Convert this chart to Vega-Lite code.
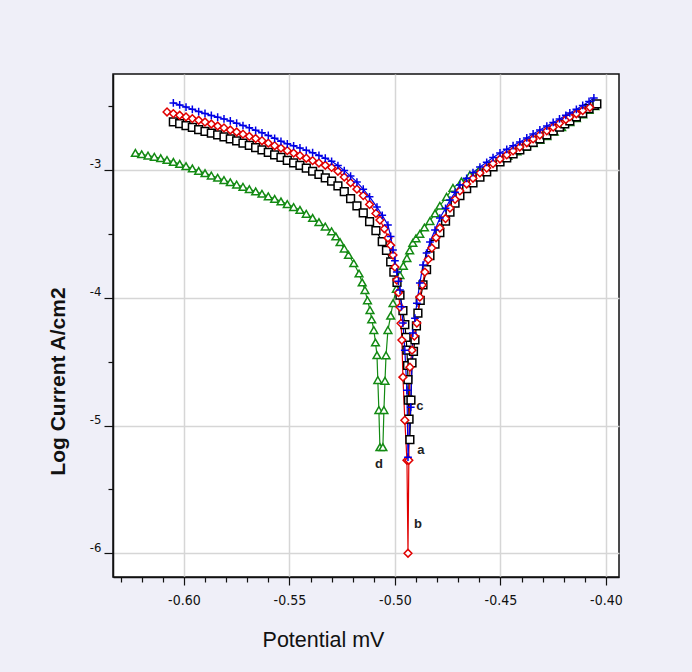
{
"$schema": "https://vega.github.io/schema/vega-lite/v6.json",
"width": 506, "height": 503,
"autosize": "none",
"padding": {"left": 113, "top": 74, "right": 73, "bottom": 95},
"background": "#EFEFF8",
"config": {"view": {"stroke": "#111111", "strokeWidth": 1.5, "fill": "white"}},
"datasets": {
"curves": [
{"s":"d","x":-0.623,"y":-2.867},{"s":"d","x":-0.620,"y":-2.877},{"s":"d","x":-0.617,"y":-2.887},{"s":"d","x":-0.614,"y":-2.897},{"s":"d","x":-0.611,"y":-2.908},{"s":"d","x":-0.608,"y":-2.922},{"s":"d","x":-0.605,"y":-2.937},{"s":"d","x":-0.602,"y":-2.953},{"s":"d","x":-0.599,"y":-2.970},{"s":"d","x":-0.596,"y":-2.988},{"s":"d","x":-0.593,"y":-3.007},{"s":"d","x":-0.590,"y":-3.025},{"s":"d","x":-0.587,"y":-3.044},{"s":"d","x":-0.584,"y":-3.061},{"s":"d","x":-0.581,"y":-3.079},{"s":"d","x":-0.578,"y":-3.096},{"s":"d","x":-0.575,"y":-3.114},{"s":"d","x":-0.572,"y":-3.132},{"s":"d","x":-0.569,"y":-3.150},{"s":"d","x":-0.566,"y":-3.168},{"s":"d","x":-0.563,"y":-3.186},{"s":"d","x":-0.560,"y":-3.206},{"s":"d","x":-0.557,"y":-3.226},{"s":"d","x":-0.554,"y":-3.246},{"s":"d","x":-0.551,"y":-3.267},{"s":"d","x":-0.548,"y":-3.290},{"s":"d","x":-0.545,"y":-3.313},{"s":"d","x":-0.542,"y":-3.343},{"s":"d","x":-0.539,"y":-3.375},{"s":"d","x":-0.536,"y":-3.408},{"s":"d","x":-0.533,"y":-3.443},{"s":"d","x":-0.530,"y":-3.48},{"s":"d","x":-0.528,"y":-3.52},{"s":"d","x":-0.526,"y":-3.565},{"s":"d","x":-0.524,"y":-3.615},{"s":"d","x":-0.522,"y":-3.665},{"s":"d","x":-0.5195,"y":-3.73},{"s":"d","x":-0.517,"y":-3.81},{"s":"d","x":-0.5155,"y":-3.88},{"s":"d","x":-0.5142,"y":-3.94},{"s":"d","x":-0.513,"y":-4.02},{"s":"d","x":-0.5118,"y":-4.096},{"s":"d","x":-0.511,"y":-4.17},{"s":"d","x":-0.510,"y":-4.253},{"s":"d","x":-0.5092,"y":-4.35},{"s":"d","x":-0.5085,"y":-4.449},{"s":"d","x":-0.5081,"y":-4.644},{"s":"d","x":-0.5076,"y":-4.879},{"s":"d","x":-0.5071,"y":-5.169},{"s":"d","x":-0.5057,"y":-5.169},{"s":"d","x":-0.5052,"y":-4.879},{"s":"d","x":-0.5047,"y":-4.65},{"s":"d","x":-0.5042,"y":-4.45},{"s":"d","x":-0.5033,"y":-4.253},{"s":"d","x":-0.502,"y":-4.14},{"s":"d","x":-0.5009,"y":-4.042},{"s":"d","x":-0.4993,"y":-3.93},{"s":"d","x":-0.4976,"y":-3.822},{"s":"d","x":-0.496,"y":-3.75},{"s":"d","x":-0.4943,"y":-3.689},{"s":"d","x":-0.493,"y":-3.63},{"s":"d","x":-0.4915,"y":-3.57},{"s":"d","x":-0.490,"y":-3.535},{"s":"d","x":-0.4882,"y":-3.50},{"s":"d","x":-0.486,"y":-3.45},{"s":"d","x":-0.4834,"y":-3.40},{"s":"d","x":-0.481,"y":-3.34},{"s":"d","x":-0.4787,"y":-3.28},{"s":"d","x":-0.4755,"y":-3.21},{"s":"d","x":-0.4725,"y":-3.14},{"s":"d","x":-0.4685,"y":-3.09},{"s":"d","x":-0.4645,"y":-3.039},{"s":"d","x":-0.460,"y":-3.00},{"s":"d","x":-0.455,"y":-2.961},{"s":"d","x":-0.451,"y":-2.93},{"s":"d","x":-0.4465,"y":-2.89},{"s":"d","x":-0.4422,"y":-2.855},{"s":"d","x":-0.438,"y":-2.82},{"s":"d","x":-0.4345,"y":-2.79},{"s":"d","x":-0.4313,"y":-2.765},{"s":"d","x":-0.428,"y":-2.735},{"s":"d","x":-0.4245,"y":-2.70},{"s":"d","x":-0.421,"y":-2.665},{"s":"d","x":-0.4171,"y":-2.625},{"s":"d","x":-0.414,"y":-2.595},{"s":"d","x":-0.411,"y":-2.565},{"s":"d","x":-0.408,"y":-2.53},{"s":"d","x":-0.4052,"y":-2.50},
{"s":"a","x":-0.605,"y":-2.623},{"s":"a","x":-0.602,"y":-2.638},{"s":"a","x":-0.599,"y":-2.653},{"s":"a","x":-0.596,"y":-2.667},{"s":"a","x":-0.593,"y":-2.684},{"s":"a","x":-0.590,"y":-2.697},{"s":"a","x":-0.587,"y":-2.711},{"s":"a","x":-0.584,"y":-2.726},{"s":"a","x":-0.581,"y":-2.741},{"s":"a","x":-0.578,"y":-2.757},{"s":"a","x":-0.575,"y":-2.773},{"s":"a","x":-0.572,"y":-2.790},{"s":"a","x":-0.569,"y":-2.808},{"s":"a","x":-0.566,"y":-2.825},{"s":"a","x":-0.563,"y":-2.842},{"s":"a","x":-0.560,"y":-2.862},{"s":"a","x":-0.557,"y":-2.882},{"s":"a","x":-0.554,"y":-2.902},{"s":"a","x":-0.551,"y":-2.925},{"s":"a","x":-0.548,"y":-2.944},{"s":"a","x":-0.545,"y":-2.964},{"s":"a","x":-0.542,"y":-2.985},{"s":"a","x":-0.539,"y":-3.010},{"s":"a","x":-0.536,"y":-3.035},{"s":"a","x":-0.533,"y":-3.062},{"s":"a","x":-0.530,"y":-3.088},{"s":"a","x":-0.527,"y":-3.125},{"s":"a","x":-0.524,"y":-3.170},{"s":"a","x":-0.521,"y":-3.225},{"s":"a","x":-0.518,"y":-3.280},{"s":"a","x":-0.515,"y":-3.335},{"s":"a","x":-0.512,"y":-3.405},{"s":"a","x":-0.509,"y":-3.475},{"s":"a","x":-0.506,"y":-3.56},{"s":"a","x":-0.504,"y":-3.63},{"s":"a","x":-0.502,"y":-3.72},{"s":"a","x":-0.5005,"y":-3.80},{"s":"a","x":-0.499,"y":-3.88},{"s":"a","x":-0.4976,"y":-3.98},{"s":"a","x":-0.4962,"y":-4.10},{"s":"a","x":-0.4953,"y":-4.21},{"s":"a","x":-0.4947,"y":-4.31},{"s":"a","x":-0.4943,"y":-4.41},{"s":"a","x":-0.494,"y":-4.53},{"s":"a","x":-0.4938,"y":-4.64},{"s":"a","x":-0.4936,"y":-4.80},{"s":"a","x":-0.4933,"y":-4.95},{"s":"a","x":-0.4929,"y":-5.11},{"s":"a","x":-0.4924,"y":-4.80},{"s":"a","x":-0.4919,"y":-4.51},{"s":"a","x":-0.4912,"y":-4.42},{"s":"a","x":-0.4905,"y":-4.33},{"s":"a","x":-0.4898,"y":-4.22},{"s":"a","x":-0.4891,"y":-4.12},{"s":"a","x":-0.488,"y":-4.02},{"s":"a","x":-0.4867,"y":-3.90},{"s":"a","x":-0.485,"y":-3.78},{"s":"a","x":-0.4834,"y":-3.67},{"s":"a","x":-0.481,"y":-3.58},{"s":"a","x":-0.4787,"y":-3.49},{"s":"a","x":-0.476,"y":-3.40},{"s":"a","x":-0.4739,"y":-3.33},{"s":"a","x":-0.4715,"y":-3.26},{"s":"a","x":-0.4692,"y":-3.20},{"s":"a","x":-0.466,"y":-3.145},{"s":"a","x":-0.463,"y":-3.10},{"s":"a","x":-0.4597,"y":-3.055},{"s":"a","x":-0.4565,"y":-3.015},{"s":"a","x":-0.4535,"y":-2.976},{"s":"a","x":-0.4502,"y":-2.937},{"s":"a","x":-0.447,"y":-2.905},{"s":"a","x":-0.444,"y":-2.875},{"s":"a","x":-0.4408,"y":-2.843},{"s":"a","x":-0.4375,"y":-2.813},{"s":"a","x":-0.4345,"y":-2.785},{"s":"a","x":-0.4313,"y":-2.757},{"s":"a","x":-0.428,"y":-2.725},{"s":"a","x":-0.425,"y":-2.695},{"s":"a","x":-0.422,"y":-2.665},{"s":"a","x":-0.4195,"y":-2.64},{"s":"a","x":-0.4171,"y":-2.616},{"s":"a","x":-0.414,"y":-2.585},{"s":"a","x":-0.411,"y":-2.555},{"s":"a","x":-0.408,"y":-2.52},{"s":"a","x":-0.4055,"y":-2.495},{"s":"a","x":-0.4043,"y":-2.483},
{"s":"b","x":-0.608,"y":-2.546},{"s":"b","x":-0.605,"y":-2.559},{"s":"b","x":-0.602,"y":-2.572},{"s":"b","x":-0.599,"y":-2.585},{"s":"b","x":-0.596,"y":-2.598},{"s":"b","x":-0.593,"y":-2.611},{"s":"b","x":-0.590,"y":-2.625},{"s":"b","x":-0.587,"y":-2.640},{"s":"b","x":-0.584,"y":-2.656},{"s":"b","x":-0.581,"y":-2.671},{"s":"b","x":-0.578,"y":-2.687},{"s":"b","x":-0.575,"y":-2.703},{"s":"b","x":-0.572,"y":-2.720},{"s":"b","x":-0.569,"y":-2.737},{"s":"b","x":-0.566,"y":-2.754},{"s":"b","x":-0.563,"y":-2.771},{"s":"b","x":-0.560,"y":-2.790},{"s":"b","x":-0.557,"y":-2.810},{"s":"b","x":-0.554,"y":-2.829},{"s":"b","x":-0.551,"y":-2.849},{"s":"b","x":-0.548,"y":-2.868},{"s":"b","x":-0.545,"y":-2.888},{"s":"b","x":-0.542,"y":-2.908},{"s":"b","x":-0.539,"y":-2.927},{"s":"b","x":-0.536,"y":-2.945},{"s":"b","x":-0.533,"y":-2.963},{"s":"b","x":-0.530,"y":-2.980},{"s":"b","x":-0.527,"y":-3.010},{"s":"b","x":-0.524,"y":-3.055},{"s":"b","x":-0.521,"y":-3.10},{"s":"b","x":-0.518,"y":-3.15},{"s":"b","x":-0.515,"y":-3.20},{"s":"b","x":-0.512,"y":-3.27},{"s":"b","x":-0.509,"y":-3.34},{"s":"b","x":-0.5071,"y":-3.392},{"s":"b","x":-0.505,"y":-3.46},{"s":"b","x":-0.5033,"y":-3.532},{"s":"b","x":-0.502,"y":-3.59},{"s":"b","x":-0.5009,"y":-3.666},{"s":"b","x":-0.500,"y":-3.76},{"s":"b","x":-0.4991,"y":-3.861},{"s":"b","x":-0.4983,"y":-3.96},{"s":"b","x":-0.4976,"y":-4.073},{"s":"b","x":-0.4971,"y":-4.20},{"s":"b","x":-0.4967,"y":-4.331},{"s":"b","x":-0.4962,"y":-4.621},{"s":"b","x":-0.4953,"y":-4.958},{"s":"b","x":-0.4943,"y":-5.271},{"s":"b","x":-0.4938,"y":-5.999},{"s":"b","x":-0.4934,"y":-5.271},{"s":"b","x":-0.4929,"y":-4.543},{"s":"b","x":-0.4919,"y":-4.410},{"s":"b","x":-0.4908,"y":-4.30},{"s":"b","x":-0.4896,"y":-4.198},{"s":"b","x":-0.4882,"y":-3.995},{"s":"b","x":-0.487,"y":-3.90},{"s":"b","x":-0.4858,"y":-3.799},{"s":"b","x":-0.4842,"y":-3.70},{"s":"b","x":-0.4825,"y":-3.611},{"s":"b","x":-0.4805,"y":-3.53},{"s":"b","x":-0.4787,"y":-3.454},{"s":"b","x":-0.476,"y":-3.38},{"s":"b","x":-0.4739,"y":-3.298},{"s":"b","x":-0.4715,"y":-3.23},{"s":"b","x":-0.4692,"y":-3.164},{"s":"b","x":-0.466,"y":-3.11},{"s":"b","x":-0.463,"y":-3.065},{"s":"b","x":-0.4597,"y":-3.023},{"s":"b","x":-0.4565,"y":-2.985},{"s":"b","x":-0.4535,"y":-2.95},{"s":"b","x":-0.4502,"y":-2.914},{"s":"b","x":-0.447,"y":-2.882},{"s":"b","x":-0.444,"y":-2.851},{"s":"b","x":-0.4408,"y":-2.820},{"s":"b","x":-0.4375,"y":-2.787},{"s":"b","x":-0.4345,"y":-2.757},{"s":"b","x":-0.4313,"y":-2.726},{"s":"b","x":-0.428,"y":-2.694},{"s":"b","x":-0.425,"y":-2.665},{"s":"b","x":-0.422,"y":-2.635},{"s":"b","x":-0.419,"y":-2.605},{"s":"b","x":-0.4171,"y":-2.585},{"s":"b","x":-0.414,"y":-2.56},{"s":"b","x":-0.411,"y":-2.535},{"s":"b","x":-0.4076,"y":-2.51},
{"s":"c","x":-0.605,"y":-2.475},{"s":"c","x":-0.602,"y":-2.491},{"s":"c","x":-0.599,"y":-2.508},{"s":"c","x":-0.596,"y":-2.525},{"s":"c","x":-0.593,"y":-2.543},{"s":"c","x":-0.590,"y":-2.558},{"s":"c","x":-0.587,"y":-2.573},{"s":"c","x":-0.584,"y":-2.587},{"s":"c","x":-0.581,"y":-2.601},{"s":"c","x":-0.578,"y":-2.616},{"s":"c","x":-0.575,"y":-2.634},{"s":"c","x":-0.572,"y":-2.652},{"s":"c","x":-0.569,"y":-2.670},{"s":"c","x":-0.566,"y":-2.690},{"s":"c","x":-0.563,"y":-2.709},{"s":"c","x":-0.560,"y":-2.730},{"s":"c","x":-0.557,"y":-2.752},{"s":"c","x":-0.554,"y":-2.776},{"s":"c","x":-0.551,"y":-2.795},{"s":"c","x":-0.548,"y":-2.811},{"s":"c","x":-0.545,"y":-2.828},{"s":"c","x":-0.542,"y":-2.846},{"s":"c","x":-0.539,"y":-2.865},{"s":"c","x":-0.536,"y":-2.886},{"s":"c","x":-0.533,"y":-2.908},{"s":"c","x":-0.530,"y":-2.932},{"s":"c","x":-0.527,"y":-2.965},{"s":"c","x":-0.524,"y":-3.005},{"s":"c","x":-0.521,"y":-3.048},{"s":"c","x":-0.518,"y":-3.095},{"s":"c","x":-0.515,"y":-3.150},{"s":"c","x":-0.512,"y":-3.210},{"s":"c","x":-0.5085,"y":-3.290},{"s":"c","x":-0.506,"y":-3.355},{"s":"c","x":-0.5033,"y":-3.431},{"s":"c","x":-0.502,"y":-3.52},{"s":"c","x":-0.5009,"y":-3.626},{"s":"c","x":-0.500,"y":-3.71},{"s":"c","x":-0.4991,"y":-3.799},{"s":"c","x":-0.4983,"y":-3.87},{"s":"c","x":-0.4976,"y":-3.940},{"s":"c","x":-0.4969,"y":-4.07},{"s":"c","x":-0.4962,"y":-4.198},{"s":"c","x":-0.4953,"y":-4.410},{"s":"c","x":-0.4943,"y":-4.723},{"s":"c","x":-0.4938,"y":-5.247},{"s":"c","x":-0.4925,"y":-4.856},{"s":"c","x":-0.4915,"y":-4.276},{"s":"c","x":-0.4905,"y":-4.16},{"s":"c","x":-0.4896,"y":-4.042},{"s":"c","x":-0.4882,"y":-3.885},{"s":"c","x":-0.4867,"y":-3.744},{"s":"c","x":-0.485,"y":-3.65},{"s":"c","x":-0.4834,"y":-3.564},{"s":"c","x":-0.481,"y":-3.47},{"s":"c","x":-0.4787,"y":-3.376},{"s":"c","x":-0.476,"y":-3.30},{"s":"c","x":-0.4739,"y":-3.235},{"s":"c","x":-0.4715,"y":-3.175},{"s":"c","x":-0.4692,"y":-3.117},{"s":"c","x":-0.466,"y":-3.065},{"s":"c","x":-0.463,"y":-3.02},{"s":"c","x":-0.4597,"y":-2.977},{"s":"c","x":-0.4565,"y":-2.94},{"s":"c","x":-0.4535,"y":-2.903},{"s":"c","x":-0.4502,"y":-2.867},{"s":"c","x":-0.447,"y":-2.838},{"s":"c","x":-0.444,"y":-2.81},{"s":"c","x":-0.4408,"y":-2.781},{"s":"c","x":-0.4375,"y":-2.749},{"s":"c","x":-0.4345,"y":-2.718},{"s":"c","x":-0.4313,"y":-2.687},{"s":"c","x":-0.428,"y":-2.656},{"s":"c","x":-0.425,"y":-2.628},{"s":"c","x":-0.422,"y":-2.601},{"s":"c","x":-0.419,"y":-2.572},{"s":"c","x":-0.4171,"y":-2.554},{"s":"c","x":-0.414,"y":-2.525},{"s":"c","x":-0.411,"y":-2.495},{"s":"c","x":-0.408,"y":-2.464},{"s":"c","x":-0.4057,"y":-2.436}
],
"labels": [
{"label":"a","x":-0.4877,"y":-5.19},
{"label":"b","x":-0.4891,"y":-5.77},
{"label":"c","x":-0.4882,"y":-4.85},
{"label":"d","x":-0.5076,"y":-5.30}
]
},
"encoding": {
"x": {"field": "x", "type": "quantitative",
"scale": {"domain": [-0.6336, -0.3938], "nice": false, "zero": false},
"axis": {
"values": [-0.63,-0.62,-0.61,-0.60,-0.59,-0.58,-0.57,-0.56,-0.55,-0.54,-0.53,-0.52,-0.51,-0.50,-0.49,-0.48,-0.47,-0.46,-0.45,-0.44,-0.43,-0.42,-0.41,-0.40],
"labelExpr": "abs(round(datum.value*100)) % 5 == 0 ? '-' + format(abs(datum.value), '.2f') : ''",
"tickSize": {"condition": {"test": "abs(round(datum.value*100)) % 5 == 0", "value": 8}, "value": 5},
"grid": true,
"gridColor": "#d6d6d6", "gridWidth": 1.5,
"gridOpacity": {"condition": {"test": "abs(round(datum.value*100)) % 5 == 0", "value": 1}, "value": 0},
"domainColor": "#111111", "domainWidth": 1.5, "tickColor": "#111111", "tickWidth": 1.2,
"labelFont": "Liberation Sans Narrow, DejaVu Sans Condensed, Liberation Sans, sans-serif", "labelFontSize": 14, "labelColor": "#111111", "labelPadding": 8,
"labelOverlap": false, "labelFlush": false,
"title": "Potential mV", "titleFont": "Liberation Sans, sans-serif", "titleFontSize": 21.5, "titleFontWeight": "normal",
"titleColor": "#111111", "titleX": 210, "titleY": 63, "titleAlign": "center", "titleBaseline": "middle"
}},
"y": {"field": "y", "type": "quantitative",
"scale": {"domain": [-6.185, -2.249], "nice": false, "zero": false},
"axis": {
"values": [-6, -5.5, -5, -4.5, -4, -3.5, -3, -2.5],
"labelExpr": "datum.value == round(datum.value) ? '-' + format(abs(datum.value), 'd') : ''",
"tickSize": {"condition": {"test": "datum.value == round(datum.value)", "value": 9}, "value": 5},
"grid": true,
"gridColor": "#d6d6d6", "gridWidth": 1.5,
"gridOpacity": {"condition": {"test": "datum.value == round(datum.value)", "value": 1}, "value": 0},
"domainColor": "#111111", "domainWidth": 1.5, "tickColor": "#111111", "tickWidth": 1.2,
"labelFont": "Liberation Sans Narrow, DejaVu Sans Condensed, Liberation Sans, sans-serif", "labelFontSize": 13, "labelColor": "#111111", "labelPadding": 3,
"labelBaseline": "middle", "labelOffset": -6,
"labelOverlap": false, "labelFlush": false,
"title": "Log Current  A/cm2", "titleFont": "Liberation Sans, sans-serif", "titleFontSize": 21, "titleFontWeight": "bold",
"titleColor": "#111111", "titleX": -55, "titleY": 307, "titleAngle": 270, "titleAlign": "center", "titleBaseline": "middle"
}}
},
"layer": [
{"data": {"name": "curves"},
"mark": {"type": "line", "strokeWidth": 1.2, "clip": true},
"encoding": {
"stroke": {"field": "s", "type": "nominal", "legend": null,
"scale": {"domain": ["a","b","c","d"], "range": ["#000000","#e00000","#0000e6","#138a13"]}},
"detail": {"field": "s"}
}},
{"data": {"name": "curves"},
"mark": {"type": "point", "filled": true, "size": 60, "opacity": 1, "clip": true},
"encoding": {
"stroke": {"field": "s", "type": "nominal", "legend": null,
"scale": {"domain": ["a","b","c","d"], "range": ["#000000","#e00000","#0000e6","#138a13"]}},
"fill": {"field": "s", "type": "nominal", "legend": null,
"scale": {"domain": ["a","b","c","d"], "range": ["#ffffff","#ffffff","#0000e6","#ffffff"]}},
"shape": {"field": "s", "type": "nominal", "legend": null,
"scale": {"domain": ["a","b","c","d"], "range": ["square","diamond","M-1,0L1,0M0,-1L0,1","triangle-up"]}},
"strokeWidth": {"field": "s", "type": "nominal", "legend": null,
"scale": {"domain": ["a","b","c","d"], "range": [1.5,1.5,2.2,1.5]}}
}},
{"data": {"name": "labels"},
"mark": {"type": "text", "font": "Liberation Sans, sans-serif", "fontSize": 13, "fontWeight": "bold", "color": "#222222", "align": "center", "baseline": "middle"},
"encoding": {"text": {"field": "label"}}
}
]
}
